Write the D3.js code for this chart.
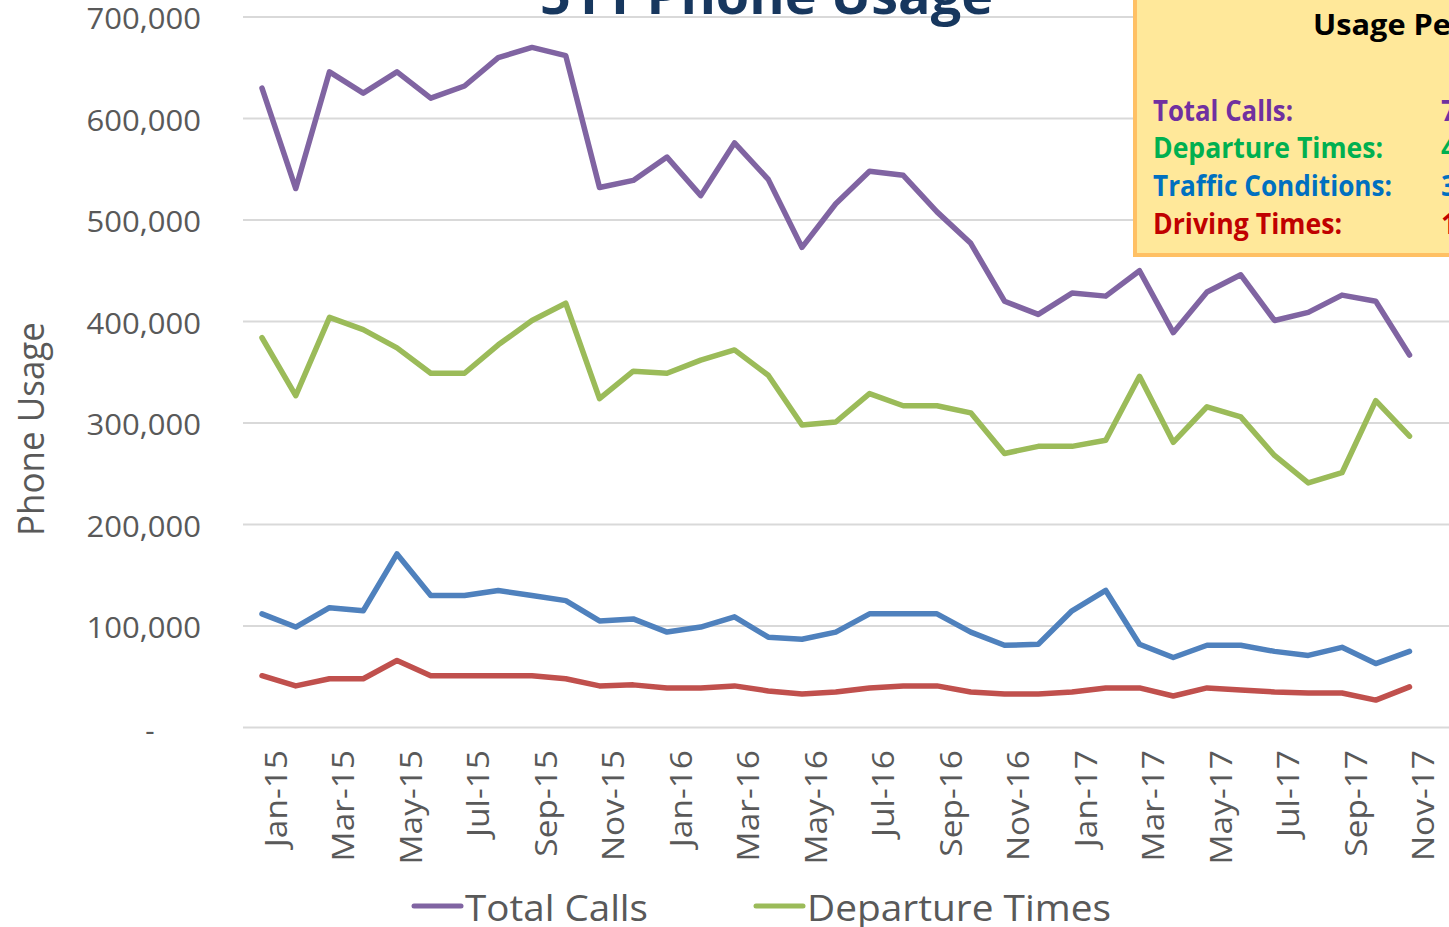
<!DOCTYPE html>
<html>
<head>
<meta charset="utf-8">
<script src="https://cdn.jsdelivr.net/npm/d3@7"></script>
<style>
  html, body { margin: 0; padding: 0; background: #fff; overflow: hidden; }
  text { font-family: 'Open Sans', sans-serif; }
</style>
</head>
<body>
<div id="chart"></div>
<script>
const WIDTH = 1449;
const HEIGHT = 927;
const AXIS_COLOR = '#595959';
const GRID_COLOR = '#D9D9D9';

// categories
const MONTHS = [
  'Jan-15', 'Feb-15', 'Mar-15', 'Apr-15', 'May-15', 'Jun-15', 'Jul-15', 'Aug-15', 'Sep-15', 'Oct-15', 'Nov-15', 'Dec-15',
  'Jan-16', 'Feb-16', 'Mar-16', 'Apr-16', 'May-16', 'Jun-16', 'Jul-16', 'Aug-16', 'Sep-16', 'Oct-16', 'Nov-16', 'Dec-16',
  'Jan-17', 'Feb-17', 'Mar-17', 'Apr-17', 'May-17', 'Jun-17', 'Jul-17', 'Aug-17', 'Sep-17', 'Oct-17', 'Nov-17'
];
const X_TICKS = ['Jan-15', 'Mar-15', 'May-15', 'Jul-15', 'Sep-15', 'Nov-15', 'Jan-16', 'Mar-16', 'May-16',
  'Jul-16', 'Sep-16', 'Nov-16', 'Jan-17', 'Mar-17', 'May-17', 'Jul-17', 'Sep-17', 'Nov-17'];
const Y_TICKS = [0, 100000, 200000, 300000, 400000, 500000, 600000, 700000];

// series values
const TOTAL_CALLS = [
  630000, 531000, 646000, 625000, 646000, 620000, 632000, 660000, 670000, 662000, 532000, 539000,
  562000, 524000, 576000, 540000, 473000, 516000, 548000, 544000, 508000, 477000, 420000, 407000,
  428000, 425000, 450000, 389000, 429000, 446000, 401000, 409000, 426000, 420000, 367000
];
const DEPARTURE_TIMES = [
  384000, 327000, 404000, 392000, 374000, 349000, 349000, 377000, 401000, 418000, 324000, 351000,
  349000, 362000, 372000, 347000, 298000, 301000, 329000, 317000, 317000, 310000, 270000, 277000,
  277000, 283000, 346000, 281000, 316000, 306000, 268000, 241000, 251000, 322000, 287000
];
const TRAFFIC_CONDITIONS = [
  112000, 99000, 118000, 115000, 171000, 130000, 130000, 135000, 130000, 125000, 105000, 107000,
  94000, 99000, 109000, 89000, 87000, 94000, 112000, 112000, 112000, 94000, 81000, 82000,
  115000, 135000, 82000, 69000, 81000, 81000, 75000, 71000, 79000, 63000, 75000
];
const DRIVING_TIMES = [
  51000, 41000, 48000, 48000, 66000, 51000, 51000, 51000, 51000, 48000, 41000, 42000,
  39000, 39000, 41000, 36000, 33000, 35000, 39000, 41000, 41000, 35000, 33000, 33000,
  35000, 39000, 39000, 31000, 39000, 37000, 35000, 34000, 34000, 27000, 40000
];

const SERIES = [
  {name: 'Total Calls', values: TOTAL_CALLS, color: '#8064A2'},
  {name: 'Departure Times', values: DEPARTURE_TIMES, color: '#9BBB59'},
  {name: 'Traffic Conditions', values: TRAFFIC_CONDITIONS, color: '#4F81BD'},
  {name: 'Driving Times', values: DRIVING_TIMES, color: '#C0504D'}
];

// text panel in the top right corner (only the visible part)
const PANEL_TITLE = 'Usage Pe';
const PANEL_ROWS = [
  {label: 'Total Calls:', value: '7', color: '#7030A0', width: 140},
  {label: 'Departure Times:', value: '4', color: '#00B050', width: 230},
  {label: 'Traffic Conditions:', value: '3', color: '#0070C0', width: 239},
  {label: 'Driving Times:', value: '1', color: '#C00000', width: 189}
];

const svg = d3.select('#chart')
  .append('svg')
  .attr('width', WIDTH)
  .attr('height', HEIGHT);

const x = d3.scalePoint()
  .domain(MONTHS)
  .range([262, 1409.5]);

const y = d3.scaleLinear()
  .domain([0, 700000])
  .range([727.5, 17]);

// gridlines
svg.append('g')
  .selectAll('line')
  .data(Y_TICKS)
  .join('line')
  .attr('x1', 243)
  .attr('x2', WIDTH)
  .attr('y1', d => y(d))
  .attr('y2', d => y(d))
  .attr('stroke', GRID_COLOR)
  .attr('stroke-width', 2);

// y axis labels
const yAxis = d3.axisLeft(y)
  .tickValues(Y_TICKS)
  .tickSize(0)
  .tickPadding(0)
  .tickFormat(d => d === 0 ? '-' : d3.format(',')(d));

const yAxisG = svg.append('g')
  .attr('transform', 'translate(201,0)')
  .call(yAxis);

yAxisG.select('.domain').remove();
yAxisG.selectAll('text')
  .attr('fill', AXIS_COLOR)
  .attr('font-size', 29)
  .attr('font-family', "'Open Sans', sans-serif")
  .attr('dy', '0.41em')
  .attr('transform', 'scale(1.07,1)')
  .attr('x', 0);
yAxisG.selectAll('.tick')
  .filter(d => d === 0)
  .select('text')
  .attr('text-anchor', 'middle')
  .attr('transform', null)
  .attr('x', -51)
  .attr('dy', '0.45em');

// x axis labels
const xAxis = d3.axisBottom(x)
  .tickValues(X_TICKS)
  .tickSize(0)
  .tickPadding(0);

const xAxisG = svg.append('g')
  .attr('transform', 'translate(0,750)')
  .call(xAxis);

xAxisG.select('.domain').remove();
xAxisG.selectAll('text')
  .attr('fill', AXIS_COLOR)
  .attr('font-size', 31)
  .attr('font-family', "'Open Sans', sans-serif")
  .attr('text-anchor', 'end')
  .attr('x', 0)
  .attr('y', 0)
  .attr('dy', 0)
  .attr('transform', 'translate(24,0) rotate(-90) scale(1.08,1)');

// y axis title
svg.append('text')
  .attr('transform', 'translate(44,429) rotate(-90)')
  .attr('text-anchor', 'middle')
  .attr('font-size', 37)
  .attr('fill', AXIS_COLOR)
  .attr('textLength', 214)
  .attr('lengthAdjust', 'spacingAndGlyphs')
  .text('Phone Usage');

// series lines
const line = d3.line()
  .x((d, i) => x(MONTHS[i]))
  .y(d => y(d));

svg.append('g')
  .selectAll('path')
  .data(SERIES)
  .join('path')
  .attr('fill', 'none')
  .attr('stroke', d => d.color)
  .attr('stroke-width', 5.5)
  .attr('stroke-linejoin', 'round')
  .attr('stroke-linecap', 'round')
  .attr('d', d => line(d.values));

// chart title, cut off by the top edge
svg.append('text')
  .attr('x', 540)
  .attr('y', 14)
  .attr('font-size', 52)
  .attr('font-weight', 'bold')
  .attr('fill', '#17375E')
  .attr('textLength', 453)
  .attr('lengthAdjust', 'spacingAndGlyphs')
  .text('511 Phone Usage');

// yellow panel
const panel = svg.append('g');

panel.append('rect')
  .attr('x', 1135)
  .attr('y', -20)
  .attr('width', 400)
  .attr('height', 275)
  .attr('fill', '#FFE89A')
  .attr('stroke', '#FFC064')
  .attr('stroke-width', 4);

panel.append('text')
  .attr('x', 1313)
  .attr('y', 35)
  .attr('font-size', 29)
  .attr('font-weight', 'bold')
  .attr('fill', '#000')
  .attr('textLength', 138)
  .attr('lengthAdjust', 'spacingAndGlyphs')
  .text(PANEL_TITLE);

const rowY = d3.scalePoint()
  .domain(PANEL_ROWS.map(d => d.label))
  .range([120.5, 233.5]);

const rows = panel.selectAll('g.row')
  .data(PANEL_ROWS)
  .join('g')
  .attr('class', 'row')
  .attr('transform', d => 'translate(0,' + rowY(d.label) + ')');

rows.append('text')
  .attr('x', 1153)
  .attr('font-size', 28)
  .attr('font-weight', 'bold')
  .attr('fill', d => d.color)
  .attr('textLength', d => d.width)
  .attr('lengthAdjust', 'spacingAndGlyphs')
  .text(d => d.label);

rows.append('text')
  .attr('x', 1441)
  .attr('font-size', 28)
  .attr('font-weight', 'bold')
  .attr('fill', d => d.color)
  .text(d => d.value);

// bottom legend (first row, the rest falls below the picture)
const LEGEND_ITEMS = [
  {series: SERIES[0], x: 414, width: 183},
  {series: SERIES[1], x: 756, width: 304}
];

const legend = svg.append('g')
  .selectAll('g')
  .data(LEGEND_ITEMS)
  .join('g')
  .attr('transform', d => 'translate(' + d.x + ',906)');

legend.append('line')
  .attr('x1', 0)
  .attr('x2', 47)
  .attr('stroke', d => d.series.color)
  .attr('stroke-width', 5)
  .attr('stroke-linecap', 'round');

legend.append('text')
  .attr('x', 51)
  .attr('y', 15)
  .attr('font-size', 36)
  .attr('fill', AXIS_COLOR)
  .attr('textLength', d => d.width)
  .attr('lengthAdjust', 'spacingAndGlyphs')
  .text(d => d.series.name);
</script>
</body>
</html>
